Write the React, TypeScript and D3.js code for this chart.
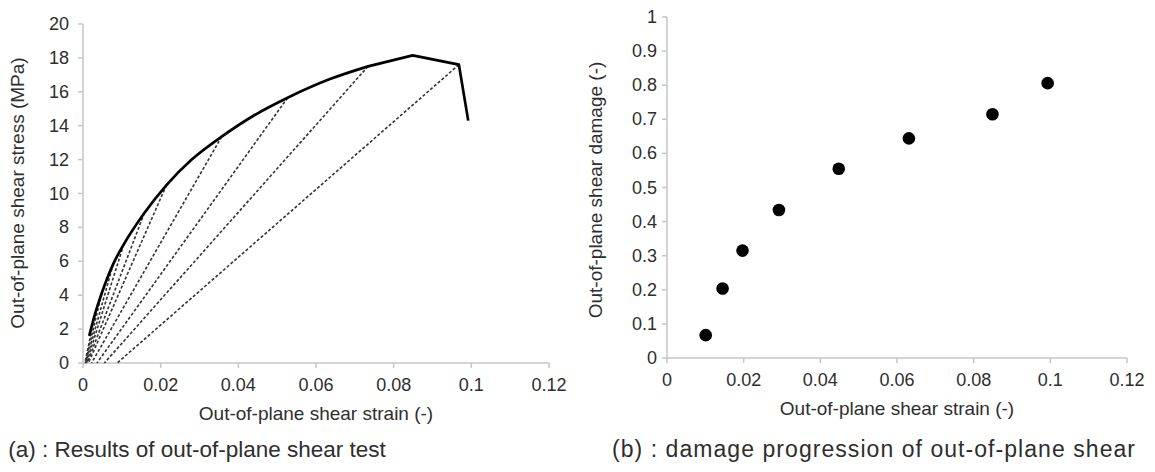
import React from "react";
import * as d3 from "d3";

// ---- Data ----
const strainCurve = [0.0016, 0.0031, 0.0048, 0.0078, 0.0105, 0.0158, 0.0215, 0.028, 0.0357, 0.044, 0.0527, 0.0636, 0.0734, 0.0849, 0.0968, 0.0992];
const stressCurve = [1.6, 2.9, 4.1, 5.85, 7.0, 8.85, 10.5, 12.0, 13.35, 14.6, 15.65, 16.75, 17.5, 18.15, 17.6, 14.3];
// index from which the curve is drawn with straight segments (peak / failure)
const smoothUntil = 12;

const unloadPeakStrain = [0.0968, 0.0734, 0.0527, 0.0357, 0.0215, 0.0158, 0.0105, 0.0078, 0.0048, 0.0031];
const unloadPeakStress = [17.6, 17.5, 15.65, 13.35, 10.5, 8.85, 7.0, 5.85, 4.1, 2.9];
const unloadResidualStrain = [0.0088, 0.0055, 0.0036, 0.0022, 0.0014, 0.0011, 0.0009, 0.0007, 0.0006, 0.0005];

const damageStrain = [0.0101, 0.0145, 0.0197, 0.0292, 0.0448, 0.0631, 0.0849, 0.0993];
const damageValue = [0.067, 0.204, 0.315, 0.434, 0.555, 0.644, 0.715, 0.806];

const strainTicks = [0, 0.02, 0.04, 0.06, 0.08, 0.1, 0.12];
const stressTicks = [0, 2, 4, 6, 8, 10, 12, 14, 16, 18, 20];
const damageTicks = [0, 0.1, 0.2, 0.3, 0.4, 0.5, 0.6, 0.7, 0.8, 0.9, 1];

const xTitle = "Out-of-plane shear strain (-)";
const yTitleA = "Out-of-plane shear stress (MPa)";
const yTitleB = "Out-of-plane shear damage (-)";
const captionA = "(a) : Results of out-of-plane shear test";
const captionB = "(b) : damage progression of out-of-plane shear";

const FONT = "'Liberation Sans', Arial, Helvetica, sans-serif";
const TEXT = "#2e2e2e";
const AXIS = "#c6c6c6";

const fmt = (v: number) => String(+v.toFixed(2));

function Axes({ x, y, xt, yt, yLabelGap }: any) {
  const [x0, x1] = x.range();
  const [y0] = y.range();
  return (
    <g>
      <line x1={x0} x2={x1} y1={y0} y2={y0} stroke={AXIS} strokeWidth={1.5} />
      <line x1={x0} x2={x0} y1={y0} y2={y.range()[1]} stroke={AXIS} strokeWidth={1.5} />
      {xt.map((t: number) => (
        <g key={"x" + t}>
          <line x1={x(t)} x2={x(t)} y1={y0} y2={y0 + 5} stroke={AXIS} strokeWidth={1.5} />
          <text x={x(t)} y={y0 + 28} textAnchor="middle" fontSize={18} fill={TEXT} fontFamily={FONT}>{fmt(t)}</text>
        </g>
      ))}
      {yt.map((t: number) => (
        <g key={"y" + t}>
          <line x1={x0 - 5} x2={x0} y1={y(t)} y2={y(t)} stroke={AXIS} strokeWidth={1.5} />
          <text x={x0 - yLabelGap} y={y(t) + 6} textAnchor="end" fontSize={18} fill={TEXT} fontFamily={FONT}>{fmt(t)}</text>
        </g>
      ))}
    </g>
  );
}

export default function App() {
  const xA = d3.scaleLinear().domain([0, 0.12]).range([83, 549]);
  const yA = d3.scaleLinear().domain([0, 20]).range([363, 24]);
  const xB = d3.scaleLinear().domain([0, 0.12]).range([667, 1127]);
  const yB = d3.scaleLinear().domain([0, 1]).range([358, 17]);

  const pts: [number, number][] = strainCurve.map((s, i) => [xA(s), yA(stressCurve[i])]);
  const smooth = d3.line().curve(d3.curveMonotoneX)(pts.slice(0, smoothUntil + 1)) || "";
  const rest = pts
    .slice(smoothUntil + 1)
    .map((p) => `L${p[0]},${p[1]}`)
    .join("");

  return (
    <svg width={1155} height={472} style={{ position: "absolute", left: 0, top: 0, background: "#fff" }}>
      <rect width={1155} height={472} fill="#fff" />
      {/* Chart A */}
      <Axes x={xA} y={yA} xt={strainTicks} yt={stressTicks} yLabelGap={14} />
      {unloadPeakStrain.map((s, i) => (
        <line
          key={"u" + i}
          x1={xA(s)}
          y1={yA(unloadPeakStress[i])}
          x2={xA(unloadResidualStrain[i])}
          y2={yA(0)}
          stroke="#333"
          strokeWidth={1.6}
          strokeDasharray="3 2"
        />
      ))}
      <path d={smooth + rest} fill="none" stroke="#000" strokeWidth={2.7} strokeLinejoin="round" />
      <text x={316} y={420} textAnchor="middle" fontSize={19} fill={TEXT} fontFamily={FONT}>{xTitle}</text>
      <text transform={`translate(24,193) rotate(-90)`} textAnchor="middle" fontSize={19} fill={TEXT} fontFamily={FONT}>{yTitleA}</text>
      <text x={197} y={457} textAnchor="middle" fontSize={22.5} fill={TEXT} fontFamily={FONT}>{captionA}</text>

      {/* Chart B */}
      <Axes x={xB} y={yB} xt={strainTicks} yt={damageTicks} yLabelGap={10} />
      {damageStrain.map((s, i) => (
        <circle key={"d" + i} cx={xB(s)} cy={yB(damageValue[i])} r={6.3} fill="#000" />
      ))}
      <text x={897} y={415} textAnchor="middle" fontSize={19} fill={TEXT} fontFamily={FONT}>{xTitle}</text>
      <text transform={`translate(602,190) rotate(-90)`} textAnchor="middle" fontSize={19} fill={TEXT} fontFamily={FONT}>{yTitleB}</text>
      <text x={612} y={457} textAnchor="start" fontSize={23} textLength={523} lengthAdjust="spacing" fill={TEXT} fontFamily={FONT}>{captionB}</text>
    </svg>
  );
}
